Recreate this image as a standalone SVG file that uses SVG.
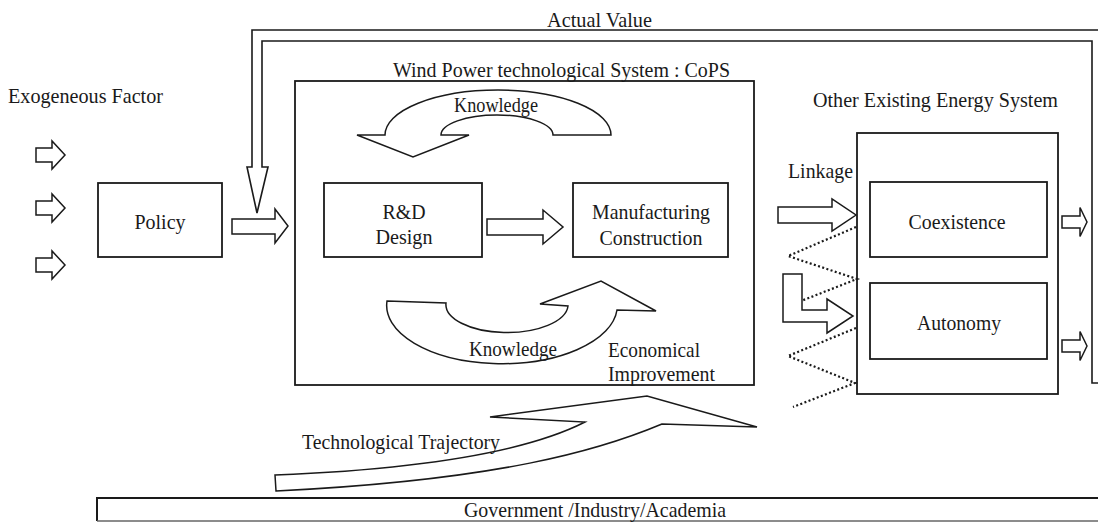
<svg xmlns="http://www.w3.org/2000/svg" width="1098" height="523" viewBox="0 0 1098 523">
<style>
.ln{fill:none;stroke:#1a1a1a;stroke-width:1.6}
.box{fill:#fff;stroke:#1a1a1a;stroke-width:1.8}
.ar{fill:#fff;stroke:#1a1a1a;stroke-width:1.5;stroke-linejoin:miter}
.dot{fill:none;stroke:#1a1a1a;stroke-width:2.2;stroke-dasharray:2 2.4}
.t{font-family:"Liberation Serif","Times New Roman",serif;font-size:21.5px;fill:#1a1a1a}
.m{text-anchor:middle}
</style>
<defs>
<path id="sa" d="M0,-7 H16 V-14 L29,0 L16,14 V7 H0 Z"/>
<path id="ra" d="M0,-6 H18 V-14.5 L25,0 L18,14.5 V6 H0 Z"/>
</defs>
<rect width="1098" height="523" fill="#fff"/>

<g id="labels">
<text class="t" x="547" y="27" textLength="105" lengthAdjust="spacingAndGlyphs">Actual Value</text>
<text class="t" x="8" y="103" textLength="155" lengthAdjust="spacingAndGlyphs">Exogeneous Factor</text>
</g>

<g id="wpts">
<rect class="box" x="295" y="81" width="459" height="304"/>
<text class="t" x="393" y="77" textLength="337" lengthAdjust="spacingAndGlyphs">Wind Power technological System : CoPS</text>
</g>

<g id="policy">
<rect class="box" x="98" y="183" width="124" height="74"/>
<text class="t m" x="160" y="229" textLength="51" lengthAdjust="spacingAndGlyphs">Policy</text>
</g>

<g id="rnd">
<rect class="box" x="324" y="183" width="158" height="74"/>
<text class="t m" x="404" y="219" textLength="43" lengthAdjust="spacingAndGlyphs">R&amp;D</text>
<text class="t m" x="404" y="244" textLength="57" lengthAdjust="spacingAndGlyphs">Design</text>
</g>

<g id="manufacturing">
<rect class="box" x="573" y="183" width="155" height="74"/>
<text class="t m" x="651" y="219" textLength="118" lengthAdjust="spacingAndGlyphs">Manufacturing</text>
<text class="t m" x="651" y="245" textLength="103" lengthAdjust="spacingAndGlyphs">Construction</text>
</g>

<g id="other-system">
<rect class="box" x="857" y="133" width="201" height="261"/>
<text class="t" x="813" y="107" textLength="245" lengthAdjust="spacingAndGlyphs">Other Existing Energy System</text>
</g>

<g id="coexistence">
<rect class="box" x="870" y="182" width="177" height="75"/>
<text class="t m" x="957" y="229" textLength="97" lengthAdjust="spacingAndGlyphs">Coexistence</text>
</g>

<g id="autonomy">
<rect class="box" x="870" y="283" width="177" height="76"/>
<text class="t m" x="959" y="330" textLength="84" lengthAdjust="spacingAndGlyphs">Autonomy</text>
</g>

<g id="gia">
<path d="M1098,498 H97 V521" fill="none" stroke="#1a1a1a" stroke-width="2"/>
<path d="M97,521 H1098" fill="none" stroke="#666" stroke-width="1.5"/>
<text class="t" x="464" y="517" textLength="262" lengthAdjust="spacingAndGlyphs">Government /Industry/Academia</text>
</g>

<g id="connectors">
<path class="ln" d="M1098,30 H252 V167 H247 L257,213 L268,167 H262 V41 H1092 V383 H1098"/>
<use href="#sa" class="ar" x="36" y="155"/>
<use href="#sa" class="ar" x="36" y="208"/>
<use href="#sa" class="ar" x="36" y="265"/>
<polygon class="ar" points="232,219 275,219 275,209 288,226 275,243 275,234 232,234"/>
<polygon class="ar" points="487,219 543,219 543,210 563,227 543,244 543,235 487,235"/>
<path class="ar" d="M385,135 A113,45 0 0 1 611,135 L553,135 A56,20 0 0 0 441,135 L469,135 L413,157 L357,135 Z"/>
<path class="ar" d="M387,301 L446,303 A61,28 0 0 0 568,306 L540,304 L601,281 L656,311 L617,310 A115,58 0 0 1 387,301 Z"/>
<path class="ar" d="M276,491 L275,475 C400,470 520,455 585,422 L490,417 L647,396 L757,427 L662,424 C600,450 500,480 276,491 Z"/>
<path class="dot" d="M856,227 L788,256 L857,279 L801,301"/>
<path class="dot" d="M856,328 L788,356 L855,383 L793,407"/>
<polygon class="ar" points="778,207 832,207 832,199 856,215 832,231 832,223 778,223"/>
<polygon class="ar" points="783,274 802,274 802,310 827,310 827,299 853,316 827,333 827,322 783,322"/>
<use href="#ra" class="ar" x="1062" y="222"/>
<use href="#ra" class="ar" x="1062" y="346"/>
</g>

<g id="connector-labels">
<text class="t" x="454" y="112" textLength="84" lengthAdjust="spacingAndGlyphs" style="font-size:20px">Knowledge</text>
<text class="t" x="469" y="356" textLength="88" lengthAdjust="spacingAndGlyphs" style="font-size:20.5px">Knowledge</text>
<text class="t" x="608" y="357" textLength="92" lengthAdjust="spacingAndGlyphs">Economical</text>
<text class="t" x="608" y="381" textLength="107" lengthAdjust="spacingAndGlyphs">Improvement</text>
<text class="t" x="302" y="449" textLength="198" lengthAdjust="spacingAndGlyphs">Technological Trajectory</text>
<text class="t" x="788" y="178" textLength="65" lengthAdjust="spacingAndGlyphs">Linkage</text>
</g>
</svg>
